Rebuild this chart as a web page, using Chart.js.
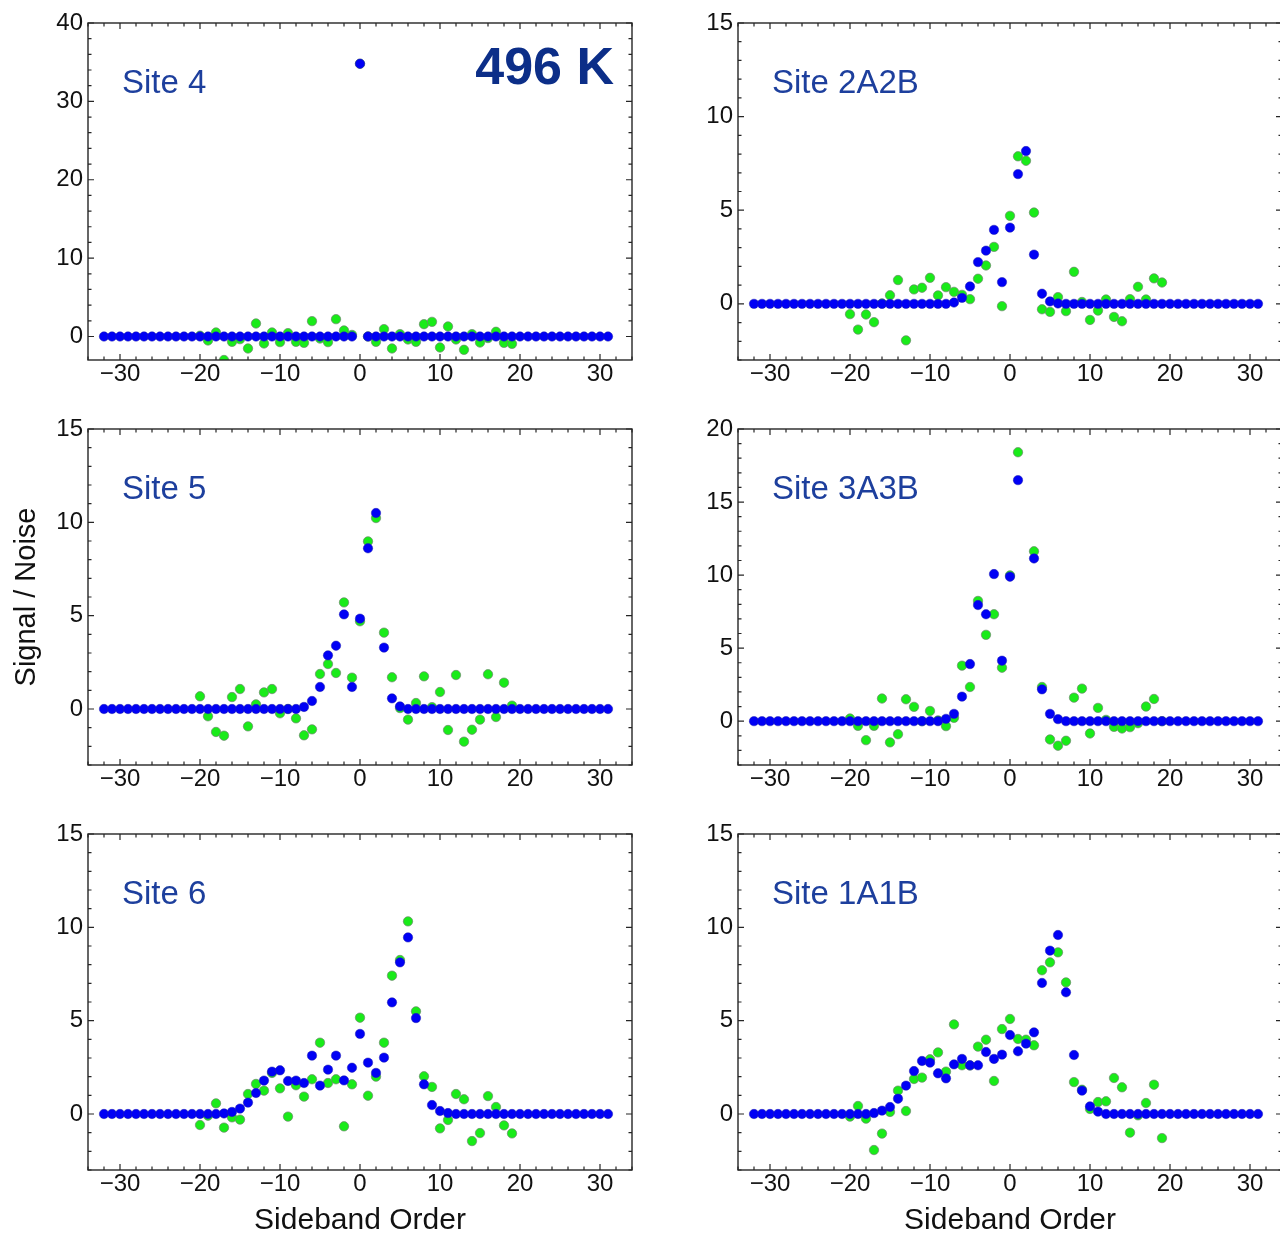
<!DOCTYPE html>
<html><head><meta charset="utf-8">
<script src="https://cdn.jsdelivr.net/npm/chart.js@4/dist/chart.umd.min.js"></script>
<style>
html,body{margin:0;padding:0;background:#fff;}
body{width:1280px;height:1234px;overflow:hidden;position:relative;}
canvas{position:absolute;}
</style></head><body>
<canvas id="c0"></canvas><canvas id="c1"></canvas><canvas id="c2"></canvas>
<canvas id="c3"></canvas><canvas id="c4"></canvas><canvas id="c5"></canvas>
<script>
// Sideband orders of the simulated (blue) and experimental (green) points
const fitOrders = [-32,-31,-30,-29,-28,-27,-26,-25,-24,-23,-22,-21,-20,-19,-18,-17,-16,-15,-14,-13,-12,-11,-10,-9,-8,-7,-6,-5,-4,-3,-2,-1,0,1,2,3,4,5,6,7,8,9,10,11,12,13,14,15,16,17,18,19,20,21,22,23,24,25,26,27,28,29,30,31];
const expOrders = [-20,-19,-18,-17,-16,-15,-14,-13,-12,-11,-10,-9,-8,-7,-6,-5,-4,-3,-2,-1,0,1,2,3,4,5,6,7,8,9,10,11,12,13,14,15,16,17,18,19];

// Site 4
const site4Fit = [0,0,0,0,0,0,0,0,0,0,0,0,0,0,0,0,0,0,0,0,0,0,0,0,0,0,0,0,0,0,0,0,34.8,0,0,0,0,0,0,0,0,0,0,0,0,0,0,0,0,0,0,0,0,0,0,0,0,0,0,0,0,0,0,0];
const site4Exp = [0.1,-0.51,0.51,-3.0,-0.68,-0.34,-1.53,1.66,-0.89,0.51,-0.72,0.43,-0.68,-0.81,1.96,-0.26,-0.72,2.21,0.77,0.2,34.8,0.0,-0.68,0.94,-1.53,0.3,-0.38,-0.68,1.57,1.87,-1.4,1.28,-0.38,-1.7,0.3,-0.77,-0.2,0.6,-0.81,-0.94];
// Site 2A2B
const site2Fit = [0,0,0,0,0,0,0,0,0,0,0,0,0,0,0,0,0,0,0,0,0,0,0,0,0,0.07,0.32,0.93,2.23,2.84,3.95,1.16,4.07,6.93,8.16,2.63,0.54,0.13,0.02,0,0,0,0,0,0,0,0,0,0,0,0,0,0,0,0,0,0,0,0,0,0,0,0,0];
const site2Exp = [-0.55,-1.375,-0.57,-0.98,0.02,0.46,1.27,-1.95,0.77,0.86,1.39,0.45,0.89,0.64,0.48,0.25,1.34,2.05,3.04,-0.125,4.7,7.88,7.64,4.875,-0.29,-0.43,0.36,-0.39,1.71,0.1,-0.86,-0.36,0.23,-0.7,-0.93,0.25,0.91,0.23,1.36,1.14];
// Site 5
const site5Fit = [0,0,0,0,0,0,0,0,0,0,0,0,0,0,0,0,0,0,0,0,0,0,0,0,0,0.11,0.43,1.18,2.875,3.39,5.07,1.18,4.84,8.61,10.5,3.29,0.57,0.14,0,0,0,0,0,0,0,0,0,0,0,0,0,0,0,0,0,0,0,0,0,0,0,0,0,0];
const site5Exp = [0.68,-0.39,-1.23,-1.43,0.64,1.07,-0.93,0.25,0.89,1.07,-0.23,0.0,-0.5,-1.41,-1.09,1.875,2.41,1.93,5.71,1.68,4.7,8.98,10.23,4.09,1.7,0.05,-0.57,0.32,1.75,0.1,0.91,-1.125,1.82,-1.75,-1.11,-0.57,1.86,-0.43,1.41,0.18];
// Site 3A3B
const site3Fit = [0,0,0,0,0,0,0,0,0,0,0,0,0,0,0,0,0,0,0,0,0,0,0,0,0.16,0.5,1.68,3.91,7.95,7.32,10.07,4.14,9.89,16.5,null,11.14,2.18,0.5,0.14,0,0,0,0,0,0,0,0,0,0,0,0,0,0,0,0,0,0,0,0,0,0,0,0,0];
const site3Exp = [0.18,-0.32,-1.3,-0.32,1.55,-1.45,-0.89,1.5,0.98,0.0,0.7,0.05,-0.34,0.23,3.8,2.34,8.23,5.91,7.32,3.66,9.98,18.41,null,11.63,2.34,-1.25,-1.68,-1.34,1.61,2.23,-0.84,0.91,0.09,-0.39,-0.5,-0.41,-0.14,1.0,1.52,0.0];
// Site 6
const site6Fit = [0,0,0,0,0,0,0,0,0,0,0,0,0,0,0,0.03,0.11,0.29,0.61,1.125,1.79,2.27,2.34,1.77,1.79,1.66,3.125,1.52,2.375,3.125,1.8,2.48,4.29,2.75,2.2,3.02,5.98,8.125,9.46,5.14,1.59,0.48,0.16,0.05,0,0,0,0,0,0,0,0,0,0,0,0,0,0,0,0,0,0,0,0];
const site6Exp = [-0.59,-0.09,0.57,-0.73,-0.18,-0.3,1.07,1.61,1.25,2.2,1.375,-0.14,1.54,0.93,1.86,3.82,1.66,1.86,-0.66,1.59,5.16,0.98,2.0,3.82,7.41,8.25,10.32,5.5,2.02,1.45,-0.77,-0.32,1.07,0.79,-1.45,-1.02,0.96,0.375,-0.61,-1.04];
// Site 1A1B
const site1Fit = [0,0,0,0,0,0,0,0,0,0,0,0,0,0,0,0.05,0.18,0.375,0.82,1.52,2.3,2.84,2.75,2.18,1.91,2.66,2.95,2.61,2.61,3.32,2.95,3.18,4.23,3.36,3.77,4.375,7.02,8.75,9.59,6.52,3.16,1.25,0.41,0.125,0,0,0,0,0,0,0,0,0,0,0,0,0,0,0,0,0,0,0,0];
const site1Exp = [-0.14,0.43,-0.25,-1.93,-1.05,0.11,1.25,0.16,1.875,1.95,2.93,3.3,2.27,4.8,2.61,2.6,3.61,3.98,1.77,4.55,5.09,4.02,3.98,3.68,7.7,8.125,8.66,7.05,1.71,1.3,0.27,0.64,0.68,1.93,1.43,-1.0,-0.07,0.59,1.57,-1.29];

const siteNames = ['Site 4','Site 2A2B','Site 5','Site 3A3B','Site 6','Site 1A1B'];
const yMaxes = [40,15,15,20,15,15];
const temperatureLabel = '496 K';
const yTitle = 'Signal / Noise';
const xTitle = 'Sideband Order';

const FONT = '"Liberation Sans", Arial, Helvetica, sans-serif';
const colL = [88, 738];
const rowT = [23, 429, 834];
const rowB = [360, 765, 1170];
const PW = 544;

const fmt = v => (v < 0 ? '\u2212' + Math.abs(v) : String(v));
const near = (a, b) => Math.abs(a - b) < 1e-9;
const isMult = (v, s) => near(v / s, Math.round(v / s));

const framePlugin = {
  id: 'frame',
  afterDatasetsDraw(chart, args, o) {
    const {ctx, chartArea: a} = chart;
    const xs = chart.scales.x, ys = chart.scales.y;
    ctx.save();
    ctx.strokeStyle = '#262626';
    ctx.lineWidth = 1.2;
    ctx.beginPath();
    xs.ticks.forEach(t => {
      const v = t.value;
      if (!isMult(v, o.xMinor)) return;
      const len = isMult(v, o.xMajor) ? 6 : 3.5;
      const p = xs.getPixelForValue(v);
      ctx.moveTo(p, a.bottom); ctx.lineTo(p, a.bottom - len);
      ctx.moveTo(p, a.top); ctx.lineTo(p, a.top + len);
    });
    ys.ticks.forEach(t => {
      const v = t.value;
      if (!isMult(v, o.yMinor)) return;
      const len = isMult(v, o.yMajor) ? 6 : 3.5;
      const p = ys.getPixelForValue(v);
      ctx.moveTo(a.left, p); ctx.lineTo(a.left + len, p);
      ctx.moveTo(a.right, p); ctx.lineTo(a.right - len, p);
    });
    ctx.stroke();
    ctx.lineWidth = 1.4;
    ctx.strokeRect(a.left, a.top, a.right - a.left, a.bottom - a.top);
    ctx.fillStyle = '#1d3f9d';
    ctx.font = '33px ' + FONT;
    ctx.textAlign = 'left';
    ctx.textBaseline = 'alphabetic';
    ctx.fillText(o.label, a.left + 34, a.top + 70);
    if (o.temp) {
      ctx.font = 'bold 52px ' + FONT;
      ctx.fillStyle = '#0c2e88';
      ctx.textAlign = 'right';
      ctx.fillText(o.temp, a.right - 18, a.top + 61);
    }
    ctx.restore();
  }
};

const fits = [site4Fit, site2Fit, site5Fit, site3Fit, site6Fit, site1Fit];
const exps = [site4Exp, site2Exp, site5Exp, site3Exp, site6Exp, site1Exp];

for (let i = 0; i < 6; i++) {
  const col = i % 2, row = Math.floor(i / 2);
  const L = colL[col], T = rowT[row], B = rowB[row];
  const xh = row === 2 ? 74 : 45;
  const W = 80 + PW + 20, H = 20 + (B - T) + xh;
  const cv = document.getElementById('c' + i);
  cv.width = W; cv.height = H;
  cv.style.left = (L - 80) + 'px'; cv.style.top = (T - 20) + 'px';
  cv.style.width = W + 'px'; cv.style.height = H + 'px';
  const yMax = yMaxes[i];
  const yMinor = yMax === 40 ? 2 : 1;
  const yMajor = yMax === 40 ? 10 : 5;
  const fitPts = fitOrders.map((x, k) => ({x, y: fits[i][k]}));
  const expPts = expOrders.map((x, k) => ({x, y: exps[i][k]}));
  new Chart(cv, {
    type: 'scatter',
    data: {
      datasets: [
        {label: 'fit', data: fitPts, backgroundColor: 'rgb(0,0,245)', borderColor: 'rgb(30,30,175)', borderWidth: 0.5, pointRadius: 4.7, pointHoverRadius: 4.7},
        {label: 'exp', data: expPts, backgroundColor: 'rgb(25,235,25)', borderColor: 'rgb(110,135,110)', borderWidth: 0.7, pointRadius: 4.7, pointHoverRadius: 4.7}
      ]
    },
    options: {
      responsive: false,
      animation: false,
      events: [],
      layout: {padding: {left: 0, top: 20, right: 20, bottom: 0}},
      plugins: {
        legend: {display: false},
        tooltip: {enabled: false},
        frame: {xMinor: 2, xMajor: 10, yMinor, yMajor, label: siteNames[i], temp: i === 0 ? temperatureLabel : null}
      },
      scales: {
        x: {
          type: 'linear', min: -34, max: 34,
          grid: {display: false, drawTicks: false, tickLength: 0},
          border: {display: false},
          ticks: {stepSize: 2, autoSkip: false, maxRotation: 0, padding: 0, color: '#111',
            font: {size: 24, family: FONT},
            callback: v => (isMult(v, 10) ? fmt(v) : '')},
          title: {display: row === 2, text: xTitle, color: '#111', font: {size: 30, family: FONT}, padding: {top: 0, bottom: 5}},
          afterFit: s => { s.height = xh; }
        },
        y: {
          type: 'linear', min: -3, max: yMax,
          grid: {display: false, drawTicks: false, tickLength: 0},
          border: {display: false},
          ticks: {stepSize: yMinor, autoSkip: false, padding: 5, color: '#111',
            font: {size: 24, family: FONT},
            callback: v => (isMult(v, yMajor) ? fmt(v) : '')},
          title: {display: i === 2, text: yTitle, color: '#111', font: {size: 29, family: FONT}, padding: {top: 2, bottom: 0}},
          afterFit: s => { s.width = 80; }
        }
      }
    },
    plugins: [framePlugin]
  });
}
</script>
</body></html>
